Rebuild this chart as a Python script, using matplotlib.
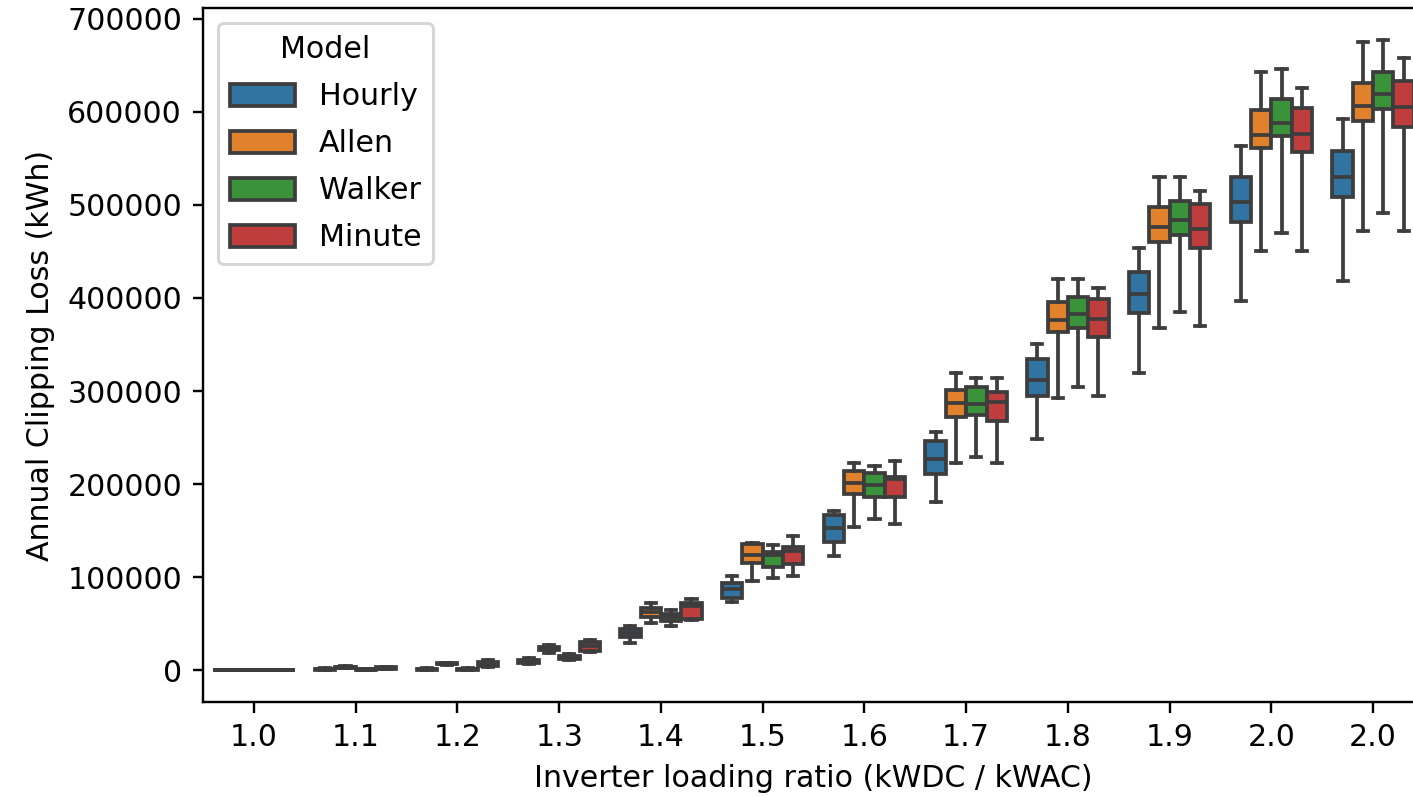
import numpy as np
import matplotlib
matplotlib.use("Agg")
import matplotlib.pyplot as plt
from matplotlib.patches import Patch

# inverter loading ratio categories (as labelled on the axis)
ilr_labels = ["1.0", "1.1", "1.2", "1.3", "1.4", "1.5", "1.6", "1.7", "1.8", "1.9", "2.0", "2.0"]
models = ["Hourly", "Allen", "Walker", "Minute"]

# box stats (kWh): upper whisker, q3, median, q1, lower whisker
hourly_hi  = [0, 2000, 2400, 13000, 47000, 101000, 170900, 255900, 350500, 453700, 563300, 592300]
hourly_q3  = [0, 1500, 1800, 11500, 44000, 93500, 166600, 246200, 334300, 427900, 530000, 557900]
hourly_med = [0, 800, 1000, 9800, 39500, 87100, 152700, 226800, 311800, 404200, 503100, 530000]
hourly_q1  = [0, 300, 400, 8000, 35500, 77400, 137600, 210700, 294600, 383800, 481600, 508500]
hourly_lo  = [0, 0, 0, 6500, 29000, 73100, 122600, 180600, 248300, 319300, 396700, 418200]

allen_hi  = [0, 4500, 8200, 26900, 72000, 136500, 222500, 319300, 420300, 530000, 642900, 675100]
allen_q3  = [0, 4000, 7600, 25200, 66700, 135500, 213900, 301000, 395600, 497700, 602000, 631000]
allen_med = [0, 3400, 7000, 23700, 62400, 123600, 201000, 287000, 376300, 476200, 575100, 606300]
allen_q1  = [0, 2800, 6300, 22000, 57000, 115000, 189200, 272000, 363400, 460100, 561200, 590200]
allen_lo  = [0, 2000, 5500, 18300, 50500, 95700, 153700, 222500, 292400, 367700, 450400, 471900]

walker_hi  = [0, 1600, 2300, 17000, 64500, 134400, 219300, 313900, 420300, 530000, 646000, 677300]
walker_q3  = [0, 1200, 1700, 15500, 60200, 126900, 211800, 304200, 401000, 504200, 613800, 642900]
walker_med = [0, 700, 900, 13800, 57000, 123600, 198900, 286000, 382700, 483800, 588000, 619200]
walker_q1  = [0, 300, 400, 12000, 52700, 110700, 186000, 274100, 367700, 467600, 574000, 603100]
walker_lo  = [0, 0, 0, 11000, 47300, 98900, 162300, 229000, 304200, 384900, 469800, 491300]

minute_hi  = [0, 3800, 10500, 32200, 76300, 144100, 224700, 313900, 410700, 514900, 625700, 657900]
minute_q3  = [0, 3000, 8500, 30000, 72000, 132200, 207500, 298900, 398800, 501000, 604200, 633200]
minute_med = [0, 2200, 6500, 25800, 68800, 127900, 205500, 288100, 377300, 474100, 576200, 605200]
minute_q1  = [0, 1500, 4500, 20500, 54800, 114000, 186000, 267700, 358000, 453700, 556900, 583700]
minute_lo  = [0, 800, 3500, 20000, 54000, 101000, 157000, 222500, 294600, 369800, 450400, 471900]

stats_by_model = {
    "Hourly": (hourly_lo, hourly_q1, hourly_med, hourly_q3, hourly_hi),
    "Allen": (allen_lo, allen_q1, allen_med, allen_q3, allen_hi),
    "Walker": (walker_lo, walker_q1, walker_med, walker_q3, walker_hi),
    "Minute": (minute_lo, minute_q1, minute_med, minute_q3, minute_hi),
}

colors = ["#3274a1", "#e1812c", "#3a923a", "#c03d3e"]
gray = "#3d3d3d"
lw = 1.25

fig = plt.figure(figsize=(1413 / 216, 797 / 216), dpi=216)
ax = fig.add_axes([0.1437, 0.1195, 0.8641, 0.8700])

n = len(ilr_labels)
x = np.arange(n)
w = 0.8 / len(models)
for i, (m, c) in enumerate(zip(models, colors)):
    lo, q1, med, q3, hi = stats_by_model[m]
    bxp_stats = [dict(whislo=lo[k], q1=q1[k], med=med[k], q3=q3[k], whishi=hi[k], fliers=[])
                 for k in range(n)]
    pos = x - 0.4 + w * (i + 0.5)
    ax.bxp(bxp_stats, positions=pos, widths=w, capwidths=w * 0.5,
           patch_artist=True, showfliers=False, manage_ticks=False,
           boxprops=dict(facecolor=c, edgecolor=gray, linewidth=lw),
           medianprops=dict(color=gray, linewidth=lw),
           whiskerprops=dict(color=gray, linewidth=lw),
           capprops=dict(color=gray, linewidth=lw))

ax.set_xticks(x)
ax.set_xticklabels(ilr_labels)
ax.set_xlim(-0.5, n - 0.5)

ymax = max(max(v) for v in (hourly_hi, allen_hi, walker_hi, minute_hi))
ymin = 0
pad = 0.05 * (ymax - ymin)
ax.set_ylim(ymin - pad, ymax + pad)
ax.set_yticks(np.arange(0, 700001, 100000))
ax.ticklabel_format(axis="y", style="plain")

ax.set_xlabel("Inverter loading ratio (kWDC / kWAC)")
ax.set_ylabel("Annual Clipping Loss (kWh)")

handles = [Patch(facecolor=c, edgecolor=gray, linewidth=lw, label=m) for m, c in zip(models, colors)]
ax.legend(handles=handles, title="Model", loc="upper left",
          labelspacing=0.6, handlelength=2.15, handleheight=0.75)

fig.savefig("out.png", dpi=216)
